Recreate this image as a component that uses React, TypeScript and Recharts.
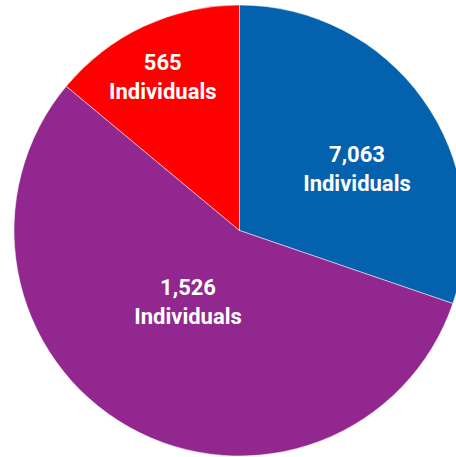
import { PieChart, Pie, Cell } from "recharts"

// slice shares (degrees of the circle / 360)
const groups = ["Group A", "Group B", "Group C"]
const shares = [30.25, 55.8, 13.95]
const counts = ["7,063", "1,526", "565"]
const unitLabel = "Individuals"
const colors = ["#0461ae", "#92278f", "#ff0000"]

const data = groups.map((g, i) => ({ name: g, value: shares[i], count: counts[i] }))

// label spot per slice: angle (deg, recharts convention) and fraction of radius
const labelSpots = [
  { angle: 27.6, r: 0.588 },
  { angle: 234.2, r: 0.39 },
  { angle: 116.6, r: 0.76 },
]

const RAD = Math.PI / 180

function SliceLabel(props: any) {
  const { cx, cy, outerRadius, index } = props
  const spot = labelSpots[index]
  const x = cx + outerRadius * spot.r * Math.cos(-spot.angle * RAD)
  const y = cy + outerRadius * spot.r * Math.sin(-spot.angle * RAD)
  return (
    <text x={x} y={y} fill="#fff" textAnchor="middle" fontFamily="Roboto, sans-serif" fontWeight={700} fontSize={22}>
      <tspan x={x} dy={-7}>{counts[index]}</tspan>
      <tspan x={x} dy={29}>{unitLabel}</tspan>
    </text>
  )
}

export default function App() {
  return (
    <div style={{ position: "absolute", left: 0, top: 0, width: 456, height: 457, overflow: "hidden", background: "#fff" }}>
      <PieChart width={456} height={457} margin={{ top: 0, right: 0, bottom: 0, left: 0 }}>
        <Pie
          data={data}
          dataKey="value"
          cx={239.5}
          cy={230.5}
          outerRadius={225.5}
          startAngle={90}
          endAngle={-270}
          stroke="#ffffff"
          strokeWidth={0.5}
          label={SliceLabel}
          labelLine={false}
          isAnimationActive={false}
        >
          {data.map((d, i) => (
            <Cell key={d.name} fill={colors[i]} />
          ))}
        </Pie>
      </PieChart>
    </div>
  )
}
